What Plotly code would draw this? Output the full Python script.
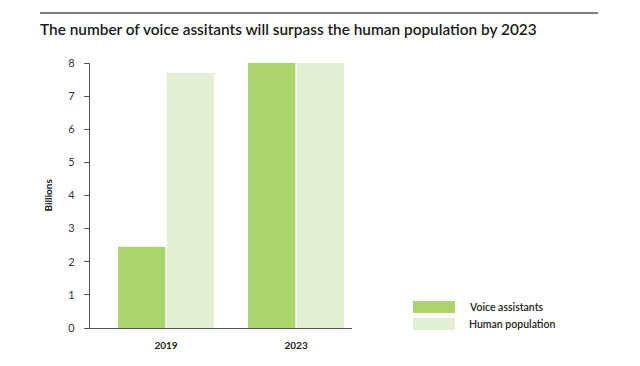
import plotly.graph_objects as go

categories = ["2019", "2023"]
series_names = ["Voice assistants", "Human population"]
voice_assistants = [2.45, 8.0]
human_population = [7.7, 8.0]
series_values = [voice_assistants, human_population]
series_colors = ["#acd46e", "#e2efd3"]
y_ticks = [0, 1, 2, 3, 4, 5, 6, 7, 8]

# page body has an 8px margin, so the figure is laid out in shifted coordinates
OFF = 8
W, H = 640 - OFF, 366 - OFF
ML, MR = 90 - OFF, 288
MT, MB = 63 - OFF, 38
pw = W - ML - MR
ph = H - MT - MB

def px_x(x):
    return (x - OFF - ML) / pw

def px_y(y):
    return (H - MB - (y - OFF)) / ph

fig = go.Figure()
for name, vals, col in zip(series_names, series_values, series_colors):
    fig.add_trace(go.Bar(x=categories, y=vals, name=name, marker_color=col,
                         marker_line_width=0, showlegend=False))

font_fam = "Lato, Open Sans, sans-serif"

fig.update_layout(
    width=W, height=H,
    margin=dict(l=ML, r=MR, t=MT, b=MB),
    paper_bgcolor="white", plot_bgcolor="white",
    barmode="group", bargap=0.25, bargroupgap=0.03,
    font=dict(family=font_fam, color="#333333"),
    title=dict(text="The number of voice assitants will surpass the human population by 2023",
               x=(40 - OFF) / W, xanchor="left", xref="container",
               y=1 - (30 - OFF) / H, yanchor="middle", yref="container",
               font=dict(size=15.4, color="#1a1a1a", family=font_fam, weight=600)),
    xaxis=dict(range=[-0.585, 1.43], showline=True, linecolor="#555555", linewidth=1.2,
               ticks="", showgrid=False, zeroline=False,
               tickfont=dict(size=10, color="#222222", weight="bold"),
               ticklabelstandoff=8),
    yaxis=dict(range=[0, 8], tickvals=y_ticks, showline=True, linecolor="#555555",
               linewidth=1.2, ticks="outside", ticklen=5, tickcolor="#555555",
               showgrid=False, zeroline=False,
               tickfont=dict(size=11, color="#333333"), ticklabelstandoff=7),
)

shapes = [dict(type="line", xref="paper", yref="paper",
               x0=px_x(40), x1=px_x(598), y0=px_y(13), y1=px_y(13),
               line=dict(color="#555555", width=1.5))]
annotations = [dict(text="Billions", xref="paper", yref="paper", x=px_x(47), y=0.5,
                    textangle=-90, showarrow=False, xanchor="center", yanchor="middle",
                    font=dict(size=10, color="#222222", weight="bold"))]

leg_y = [307, 324]
for name, col, yc in zip(series_names, series_colors, leg_y):
    shapes.append(dict(type="rect", xref="paper", yref="paper",
                       x0=px_x(413), x1=px_x(455), y0=px_y(yc + 6), y1=px_y(yc - 6),
                       fillcolor=col, line=dict(width=0)))
    annotations.append(dict(text=name, xref="paper", yref="paper", x=px_x(467), y=px_y(yc),
                            xanchor="left", yanchor="middle", showarrow=False,
                            font=dict(size=10.5, color="#222222", weight=600)))

fig.update_layout(shapes=shapes, annotations=annotations)
fig.write_html("out.html")
